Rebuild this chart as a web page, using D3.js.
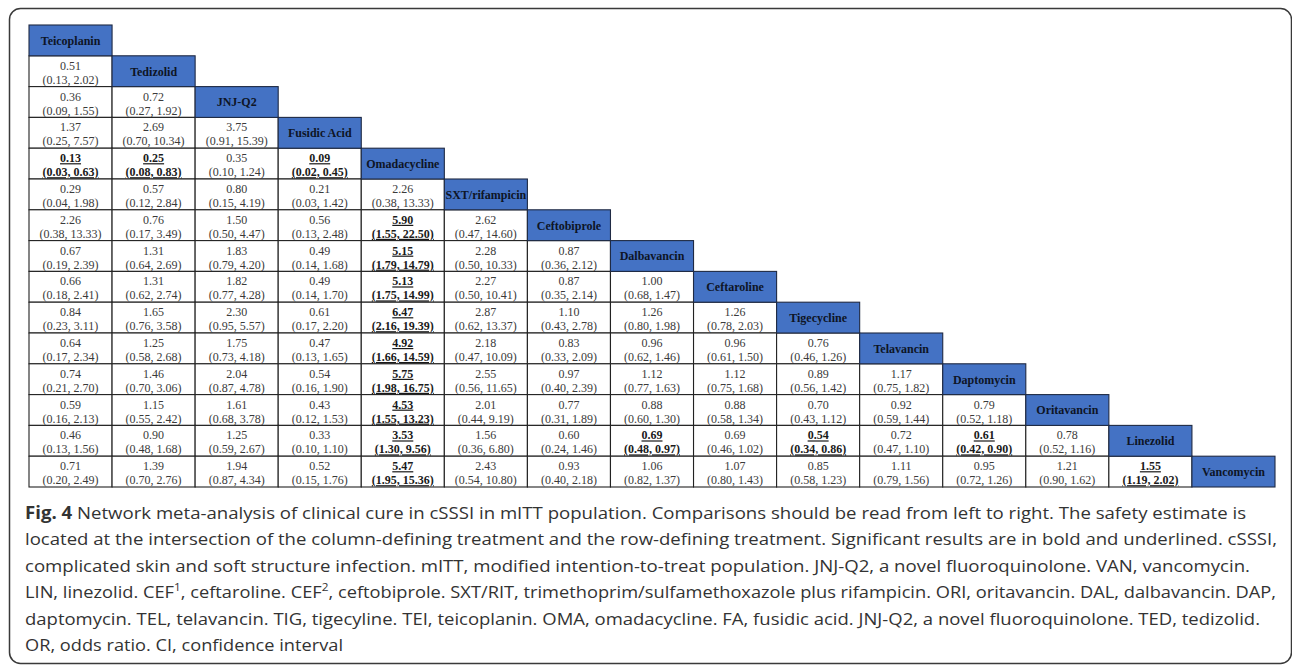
<!DOCTYPE html>
<html>
<head>
<meta charset="utf-8">
<script src="https://cdn.jsdelivr.net/npm/d3@7/dist/d3.min.js"></script>
<style>
  body { margin: 0; background: #fff; }
  svg { display: block; }
</style>
</head>
<body>
<div class="chart"></div>
<script>
//treatments, in the order of the diagonal
var treatments = ["Teicoplanin", "Tedizolid", "JNJ-Q2", "Fusidic Acid", "Omadacycline",
  "SXT/rifampicin", "Ceftobiprole", "Dalbavancin", "Ceftaroline", "Tigecycline",
  "Telavancin", "Daptomycin", "Oritavancin", "Linezolid", "Vancomycin"];

//odds ratios, row by row (lower triangle, row i has i values)
var estimates = [
  [],
  [0.51],
  [0.36, 0.72],
  [1.37, 2.69, 3.75],
  [0.13, 0.25, 0.35, 0.09],
  [0.29, 0.57, 0.80, 0.21, 2.26],
  [2.26, 0.76, 1.50, 0.56, 5.90, 2.62],
  [0.67, 1.31, 1.83, 0.49, 5.15, 2.28, 0.87],
  [0.66, 1.31, 1.82, 0.49, 5.13, 2.27, 0.87, 1.00],
  [0.84, 1.65, 2.30, 0.61, 6.47, 2.87, 1.10, 1.26, 1.26],
  [0.64, 1.25, 1.75, 0.47, 4.92, 2.18, 0.83, 0.96, 0.96, 0.76],
  [0.74, 1.46, 2.04, 0.54, 5.75, 2.55, 0.97, 1.12, 1.12, 0.89, 1.17],
  [0.59, 1.15, 1.61, 0.43, 4.53, 2.01, 0.77, 0.88, 0.88, 0.70, 0.92, 0.79],
  [0.46, 0.90, 1.25, 0.33, 3.53, 1.56, 0.60, 0.69, 0.69, 0.54, 0.72, 0.61, 0.78],
  [0.71, 1.39, 1.94, 0.52, 5.47, 2.43, 0.93, 1.06, 1.07, 0.85, 1.11, 0.95, 1.21, 1.55]
];

var ciLower = [
  [],
  [0.13],
  [0.09, 0.27],
  [0.25, 0.70, 0.91],
  [0.03, 0.08, 0.10, 0.02],
  [0.04, 0.12, 0.15, 0.03, 0.38],
  [0.38, 0.17, 0.50, 0.13, 1.55, 0.47],
  [0.19, 0.64, 0.79, 0.14, 1.79, 0.50, 0.36],
  [0.18, 0.62, 0.77, 0.14, 1.75, 0.50, 0.35, 0.68],
  [0.23, 0.76, 0.95, 0.17, 2.16, 0.62, 0.43, 0.80, 0.78],
  [0.17, 0.58, 0.73, 0.13, 1.66, 0.47, 0.33, 0.62, 0.61, 0.46],
  [0.21, 0.70, 0.87, 0.16, 1.98, 0.56, 0.40, 0.77, 0.75, 0.56, 0.75],
  [0.16, 0.55, 0.68, 0.12, 1.55, 0.44, 0.31, 0.60, 0.58, 0.43, 0.59, 0.52],
  [0.13, 0.48, 0.59, 0.10, 1.30, 0.36, 0.24, 0.48, 0.46, 0.34, 0.47, 0.42, 0.52],
  [0.20, 0.70, 0.87, 0.15, 1.95, 0.54, 0.40, 0.82, 0.80, 0.58, 0.79, 0.72, 0.90, 1.19]
];

var ciUpper = [
  [],
  [2.02],
  [1.55, 1.92],
  [7.57, 10.34, 15.39],
  [0.63, 0.83, 1.24, 0.45],
  [1.98, 2.84, 4.19, 1.42, 13.33],
  [13.33, 3.49, 4.47, 2.48, 22.50, 14.60],
  [2.39, 2.69, 4.20, 1.68, 14.79, 10.33, 2.12],
  [2.41, 2.74, 4.28, 1.70, 14.99, 10.41, 2.14, 1.47],
  [3.11, 3.58, 5.57, 2.20, 19.39, 13.37, 2.78, 1.98, 2.03],
  [2.34, 2.68, 4.18, 1.65, 14.59, 10.09, 2.09, 1.46, 1.50, 1.26],
  [2.70, 3.06, 4.78, 1.90, 16.75, 11.65, 2.39, 1.63, 1.68, 1.42, 1.82],
  [2.13, 2.42, 3.78, 1.53, 13.23, 9.19, 1.89, 1.30, 1.34, 1.12, 1.44, 1.18],
  [1.56, 1.68, 2.67, 1.10, 9.56, 6.80, 1.46, 0.97, 1.02, 0.86, 1.10, 0.90, 1.16],
  [2.49, 2.76, 4.34, 1.76, 15.36, 10.80, 2.18, 1.37, 1.43, 1.23, 1.56, 1.26, 1.62, 2.02]
];

//[row, column] of the significant comparisons (bold + underlined)
var significant = [[4, 0], [4, 1], [4, 3], [6, 4], [7, 4], [8, 4], [9, 4], [10, 4],
  [11, 4], [12, 4], [13, 4], [14, 4], [13, 7], [13, 9], [13, 11], [14, 13]];

var captionLines = [
  "Network meta-analysis of clinical cure in cSSSI in mITT population. Comparisons should be read from left to right. The safety estimate is",
  "located at the intersection of the column-defining treatment and the row-defining treatment. Significant results are in bold and underlined. cSSSI,",
  "complicated skin and soft structure infection. mITT, modified intention-to-treat population. JNJ-Q2, a novel fluoroquinolone. VAN, vancomycin.",
  "LIN, linezolid. CEF^1, ceftaroline. CEF^2, ceftobiprole. SXT/RIT, trimethoprim/sulfamethoxazole plus rifampicin. ORI, oritavancin. DAL, dalbavancin. DAP,",
  "daptomycin. TEL, telavancin. TIG, tigecyline. TEI, teicoplanin. OMA, omadacycline. FA, fusidic acid. JNJ-Q2, a novel fluoroquinolone. TED, tedizolid.",
  "OR, odds ratio. CI, confidence interval"
];

/********************************************/
var svgWidth = 1292;
var svgHeight = 666;

var table = { left: 29, right: 1275, top: 25, bottom: 487 };
var captionX = 25;
var captionTop = 519;
var captionStep = 26.4;
//right end of each caption line in the figure
var lineRight = [1246, 1277, 1250, 1276, 1260, 343];

var headerBlue = "#4472c4";

var svg = d3.select(".chart")
  .append("svg")
  .attr("width", svgWidth)
  .attr("height", svgHeight);

//outer rounded frame
svg.append("rect")
  .attr("x", 9.5)
  .attr("y", 8.5)
  .attr("width", 1282)
  .attr("height", 655)
  .attr("rx", 11)
  .attr("fill", "none")
  .attr("stroke", "#3a3a3a")
  .attr("stroke-width", 1.5);

var xScale = d3.scaleBand()
  .domain(treatments)
  .range([table.left, table.right]);

var yScale = d3.scaleBand()
  .domain(treatments)
  .range([table.top, table.bottom]);

/********************************************/
//flatten the lower triangle into cells
var cells = [];
estimates.forEach(function (row, i) {
  row.forEach(function (v, j) {
    cells.push({
      row: treatments[i],
      col: treatments[j],
      est: v,
      lo: ciLower[i][j],
      hi: ciUpper[i][j],
      sig: significant.some(s => s[0] === i && s[1] === j)
    });
  });
});

var tableGroup = svg.append("g").attr("class", "league");

var cellGroups = tableGroup.selectAll(".cell")
  .data(cells)
  .enter()
  .append("g")
  .attr("class", "cell")
  .attr("transform", d => `translate(${xScale(d.col)}, ${yScale(d.row)})`);

cellGroups.append("rect")
  .attr("width", xScale.bandwidth())
  .attr("height", yScale.bandwidth())
  .attr("fill", "#fff")
  .attr("stroke", "#222")
  .attr("stroke-width", 1.1);

cellGroups.append("text")
  .attr("x", xScale.bandwidth() / 2)
  .attr("y", 14)
  .attr("text-anchor", "middle")
  .style("font-family", "'Liberation Serif', 'Times New Roman', serif")
  .style("font-size", "12px")
  .style("font-weight", d => d.sig ? "bold" : "normal")
  .style("text-decoration", d => d.sig ? "underline" : "none")
  .attr("fill", d => d.sig ? "#1a1a1a" : "#3a3a3a")
  .text(d => d.est.toFixed(2));

cellGroups.append("text")
  .attr("x", xScale.bandwidth() / 2)
  .attr("y", 28)
  .attr("text-anchor", "middle")
  .style("font-family", "'Liberation Serif', 'Times New Roman', serif")
  .style("font-size", "12px")
  .style("font-weight", d => d.sig ? "bold" : "normal")
  .style("text-decoration", d => d.sig ? "underline" : "none")
  .attr("fill", d => d.sig ? "#1a1a1a" : "#3a3a3a")
  .text(d => `(${d.lo.toFixed(2)}, ${d.hi.toFixed(2)})`);

/********************************************/
//diagonal header cells
var headers = tableGroup.selectAll(".header")
  .data(treatments)
  .enter()
  .append("g")
  .attr("class", "header")
  .attr("transform", d => `translate(${xScale(d)}, ${yScale(d)})`);

headers.append("rect")
  .attr("width", xScale.bandwidth())
  .attr("height", yScale.bandwidth())
  .attr("fill", headerBlue)
  .attr("stroke", "#1f2a44")
  .attr("stroke-width", 1.1);

headers.append("text")
  .attr("x", xScale.bandwidth() / 2)
  .attr("y", yScale.bandwidth() / 2 + 4.5)
  .attr("text-anchor", "middle")
  .style("font-family", "'Liberation Serif', 'Times New Roman', serif")
  .style("font-size", "12px")
  .style("font-weight", "bold")
  .attr("fill", "#0e1526")
  .text(d => d);

/********************************************/
//caption
var caption = svg.append("g")
  .attr("class", "caption")
  .style("font-family", "'Open Sans', 'Noto Sans', sans-serif")
  .style("font-size", "17px")
  .attr("fill", "#333");

captionLines.forEach(function (line, i) {
  var t = caption.append("text")
    .attr("x", captionX)
    .attr("y", captionTop + i * captionStep);

  if (i === 0) {
    t.append("tspan").style("font-weight", "bold").text("Fig. 4");
    t.append("tspan").text(" ");
  }
  line.split(/(\^\d)/).forEach(function (part) {
    if (part.charAt(0) === "^") {
      t.append("tspan")
        .attr("baseline-shift", "super")
        .style("font-size", "11px")
        .text(part.slice(1));
    } else if (part.length) {
      t.append("tspan").text(part);
    }
  });

  t.attr("textLength", lineRight[i] - captionX)
    .attr("lengthAdjust", "spacingAndGlyphs");
});
</script>
</body>
</html>
